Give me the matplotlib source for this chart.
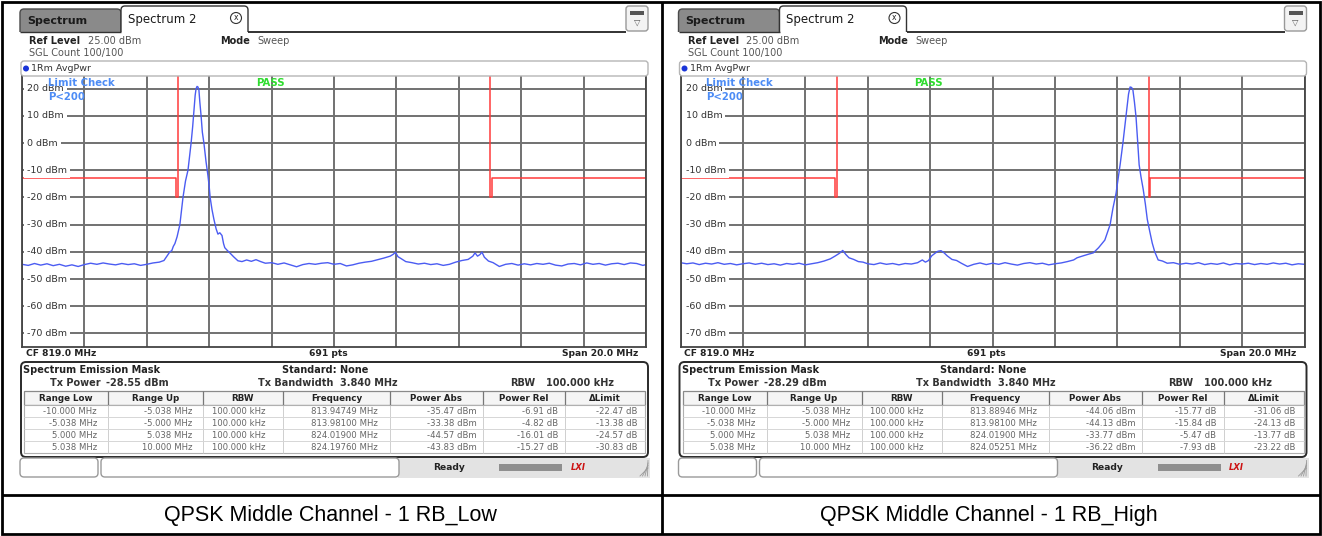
import numpy as np
import matplotlib
matplotlib.use("Agg")
import matplotlib.pyplot as plt
from matplotlib.patches import Rectangle, FancyBboxPatch, Circle

W, H = 1322, 536
plt.rcParams["font.family"] = "DejaVu Sans"

# ---- trace data (MHz, dBm) ----
freq_low = [809.0, 809.2, 809.4, 809.6, 809.8, 810.0, 810.2, 810.4, 810.6, 810.8,
            811.0, 811.2, 811.4, 811.6, 811.8, 812.0, 812.2, 812.4, 812.6, 812.8,
            813.0, 813.2, 813.4, 813.55, 813.65, 813.74, 813.8, 813.85, 813.9, 813.97,
            814.06, 814.11, 814.16, 814.24, 814.32, 814.38, 814.42, 814.47, 814.51, 814.55,
            814.58, 814.61, 814.64, 814.67, 814.7, 814.74, 814.78, 814.83, 814.9, 814.96,
            815.0, 815.03, 815.09, 815.15, 815.22, 815.28, 815.34, 815.41, 815.46, 815.5,
            815.58, 815.67, 815.78, 815.92, 816.05, 816.2, 816.35, 816.5, 816.65, 816.8,
            817.0, 817.2, 817.4, 817.6, 817.8, 818.0, 818.2, 818.4, 818.6, 818.8,
            819.0, 819.2, 819.4, 819.6, 819.8, 820.0, 820.2, 820.4, 820.6, 820.8,
            820.9, 820.97, 821.05, 821.15, 821.3, 821.5, 821.7, 821.9, 822.1, 822.3,
            822.5, 822.7, 822.9, 823.1, 823.3, 823.45, 823.52, 823.6, 823.68, 823.74,
            823.82, 823.95, 824.1, 824.3, 824.5, 824.7, 824.9, 825.1, 825.3, 825.5,
            825.7, 825.9, 826.1, 826.3, 826.5, 826.7, 826.9, 827.1, 827.3, 827.5,
            827.7, 827.9, 828.1, 828.3, 828.5, 828.7, 828.9, 829.0]
level_low = [-44.6, -45.0, -44.3, -44.9, -44.4, -45.1, -44.6, -45.3, -44.8, -45.4,
             -44.7, -44.2, -44.6, -44.1, -44.5, -44.8, -44.3, -44.7, -44.4, -45.0,
             -44.6, -44.1, -43.8, -43.2, -41.5, -40.0, -39.6, -38.0, -37.0, -34.5,
             -30.0, -25.0, -20.0, -14.0, -10.0, -4.0, 0.0, 6.0, 12.0, 17.5,
             20.0, 20.8, 20.6, 19.5, 15.0, 10.0, 4.0, 0.0, -7.0, -12.0,
             -16.0, -20.0, -24.5, -28.0, -31.5, -33.5, -33.0, -34.0, -37.0, -38.5,
             -39.5, -40.5, -41.8, -43.3, -43.6, -43.0, -43.5, -42.9, -43.6, -44.2,
             -44.0, -44.6, -44.1, -44.8, -45.5, -44.7, -44.3, -44.6, -44.2, -44.0,
             -44.6, -44.3, -45.2, -44.8, -44.2, -43.8, -43.5, -42.9, -42.3, -41.6,
             -40.9, -40.2, -41.8, -42.5, -43.6, -44.0, -44.5, -44.2, -44.7, -44.4,
             -45.0, -44.6, -43.8, -43.2, -42.8, -41.6, -40.4, -41.6, -41.0, -40.1,
             -42.0, -43.4, -44.0, -45.4, -44.6, -44.3, -44.9, -44.4, -44.8, -44.3,
             -44.6, -44.2, -44.9, -45.2, -44.5, -44.3, -44.8, -44.1, -44.6, -44.3,
             -44.9, -44.4, -44.2, -44.7, -44.1, -44.3, -45.0, -44.7]

freq_high = [809.0, 809.2, 809.4, 809.6, 809.8, 810.0, 810.2, 810.4, 810.6, 810.8,
             811.0, 811.2, 811.4, 811.6, 811.8, 812.0, 812.2, 812.4, 812.6, 812.8,
             813.0, 813.2, 813.4, 813.6, 813.8, 813.95, 814.1, 814.2, 814.3, 814.4,
             814.55, 814.7, 814.85, 815.0, 815.2, 815.4, 815.6, 815.8, 816.0, 816.2,
             816.4, 816.6, 816.75, 816.85, 816.95, 817.05, 817.15, 817.25, 817.35, 817.45,
             817.55, 817.7, 817.85, 818.0, 818.2, 818.4, 818.6, 818.8, 819.0, 819.2,
             819.4, 819.6, 819.8, 820.0, 820.2, 820.4, 820.6, 820.8, 821.0, 821.2,
             821.4, 821.6, 821.71, 821.9, 822.1, 822.23, 822.4, 822.6, 822.77, 822.86,
             822.96, 823.04, 823.09, 823.18, 823.25, 823.31, 823.36, 823.41, 823.46, 823.5,
             823.55, 823.6, 823.65, 823.7, 823.76, 823.83, 823.9, 823.96, 824.04, 824.12,
             824.2, 824.31, 824.45, 824.6, 824.8, 825.0, 825.2, 825.4, 825.6, 825.8,
             826.0, 826.2, 826.4, 826.6, 826.8, 827.0, 827.2, 827.4, 827.6, 827.8,
             828.0, 828.2, 828.4, 828.6, 828.8, 829.0]
level_high = [-44.0, -44.4, -44.1, -44.7, -44.2, -44.5, -44.0, -44.6, -44.3, -44.8,
              -44.4, -44.1, -44.6, -44.2, -44.7, -44.4, -44.9, -44.3, -44.6, -44.2,
              -44.8, -44.4, -44.0, -43.4, -42.6, -41.6, -40.5, -39.5, -41.0, -42.2,
              -42.8, -43.6, -43.8, -44.4, -44.7, -44.1, -44.6, -44.3, -44.8, -44.3,
              -44.5, -44.0, -43.0, -43.8, -43.2, -41.5, -40.6, -39.8, -39.6, -40.4,
              -41.5, -42.8, -43.2, -44.2, -45.4, -44.6, -44.1, -44.7, -44.2, -44.6,
              -44.0, -44.5, -44.9, -44.3, -44.0, -44.5, -44.2, -44.8, -44.4, -44.1,
              -43.6, -43.0, -42.2, -41.5, -40.8, -40.4, -38.5, -35.7, -30.0, -24.0,
              -18.5, -12.0, -8.0, 0.0, 7.0, 13.0, 18.0, 20.6, 20.4, 19.5,
              15.0, 9.6, 1.0, -8.0, -12.5, -17.0, -22.5, -28.0, -32.5, -36.8,
              -40.0, -43.0, -43.4, -44.2, -44.0, -44.6, -44.2, -44.5, -44.0, -44.7,
              -44.3, -44.6, -44.1, -44.8, -44.3, -44.5, -44.2, -44.7, -44.3, -44.6,
              -44.1, -44.5, -44.2, -44.8, -44.4, -44.6]

# limit line (mask) pieces
limit_lo_f = [809.0, 813.95, 813.95, 814.0, 814.0]
limit_lo_v = [-13, -13, -20, -20, 40]
limit_hi_f = [824.0, 824.0, 824.05, 824.05, 829.0]
limit_hi_v = [40, -20, -20, -13, -13]

grid_freqs = [809, 811, 813, 815, 817, 819, 821, 823, 825, 827, 829]
grid_levels = [20, 10, 0, -10, -20, -30, -40, -50, -60, -70]

# ---- table data ----
columns = ["Range Low", "Range Up", "RBW", "Frequency", "Power Abs", "Power Rel", "\u0394Limit"]
range_low = ["-10.000 MHz", "-5.038 MHz", "5.000 MHz", "5.038 MHz"]
range_up = ["-5.038 MHz", "-5.000 MHz", "5.038 MHz", "10.000 MHz"]
rbw_col = ["100.000 kHz", "100.000 kHz", "100.000 kHz", "100.000 kHz"]

tx_low = "-28.55 dBm"
freq_tab_low = ["813.94749 MHz", "813.98100 MHz", "824.01900 MHz", "824.19760 MHz"]
pabs_low = ["-35.47 dBm", "-33.38 dBm", "-44.57 dBm", "-43.83 dBm"]
prel_low = ["-6.91 dB", "-4.82 dB", "-16.01 dB", "-15.27 dB"]
dlim_low = ["-22.47 dB", "-13.38 dB", "-24.57 dB", "-30.83 dB"]

tx_high = "-28.29 dBm"
freq_tab_high = ["813.88946 MHz", "813.98100 MHz", "824.01900 MHz", "824.05251 MHz"]
pabs_high = ["-44.06 dBm", "-44.13 dBm", "-33.77 dBm", "-36.22 dBm"]
prel_high = ["-15.77 dB", "-15.84 dB", "-5.47 dB", "-7.93 dB"]
dlim_high = ["-31.06 dB", "-24.13 dB", "-13.77 dB", "-23.22 dB"]

captions = ["QPSK Middle Channel - 1 RB_Low", "QPSK Middle Channel - 1 RB_High"]

fig = plt.figure(figsize=(W / 100, H / 100), dpi=100)
top = fig.add_axes([0, 0, 1, 1], zorder=10)
top.set_xlim(0, W)
top.set_ylim(H, 0)
top.axis("off")
top.patch.set_alpha(0)


def box(x, y, w, h, fc="white", ec="#888", lw=1.0, r=0):
    if r:
        p = FancyBboxPatch((x, y), w, h, boxstyle="round,pad=0,rounding_size=%g" % r,
                           fc=fc, ec=ec, lw=lw)
    else:
        p = Rectangle((x, y), w, h, fc=fc, ec=ec, lw=lw)
    top.add_patch(p)


def txt(x, y, s, size=7, color="#222", weight="normal", ha="left", **kw):
    top.text(x, y, s, fontsize=size, color=color, fontweight=weight, ha=ha, va="center", **kw)


def hline(x0, x1, y, color="#333", lw=1.0):
    top.plot([x0, x1], [y, y], color=color, lw=lw, solid_capstyle="butt")


def vline(x, y0, y1, color="#333", lw=1.0):
    top.plot([x, x], [y0, y1], color=color, lw=lw, solid_capstyle="butt")


def panel(ox, trace_f, trace_v, tx_power, freq_tab, pabs, prel, dlim, caption):
    # tabs
    box(ox + 20, 9, 101, 28, fc="#8a8a8a", ec="#4a4a4a", r=4)
    box(ox + 121, 6, 127, 31, fc="white", ec="#333", r=4)
    box(ox + 18, 32, 634, 8, fc="white", ec="none")
    hline(ox + 20, ox + 121, 31.5, "#333")
    hline(ox + 248, ox + 626, 31.5, "#222", 1.3)
    txt(ox + 27, 20.5, "Spectrum", 8, "#1a1a1a", "bold")
    txt(ox + 128, 19, "Spectrum 2", 8.5, "#1a1a1a")
    top.add_patch(Circle((ox + 236, 18), 5.5, fill=False, ec="#333", lw=0.8))
    txt(ox + 236, 18, "x", 5.5, "#222", ha="center")
    # menu icon
    box(ox + 626, 6, 22, 25, fc="#f3f3f3", ec="#999", r=3)
    box(ox + 630, 11, 14, 4, fc="#555", ec="none")
    txt(ox + 637, 22, "\u25bd", 6, "#555", ha="center")

    # header
    txt(ox + 29, 41, "Ref Level", 7, "#222", "bold")
    txt(ox + 88, 41, "25.00 dBm", 7, "#555")
    txt(ox + 220, 41, "Mode", 7, "#222", "bold")
    txt(ox + 257, 41, "Sweep", 7, "#555")
    txt(ox + 29, 53, "SGL Count 100/100", 7, "#555")

    # trace label bar
    box(ox + 21, 61, 627, 15, fc="white", ec="#b5b5b5", r=3)
    top.add_patch(Circle((ox + 26, 68.5), 3, fc="#1a35d8", ec="none"))
    txt(ox + 31, 68.5, "1Rm AvgPwr", 6.8, "#333")

    # spectrum diagram
    ax = fig.add_axes([(ox + 22) / W, 1 - 347 / H, 624 / W, 272 / H], zorder=2)
    ax.set_xlim(809, 829)
    ax.set_ylim(-75, 25)
    ax.set_xticks(grid_freqs)
    ax.set_yticks(grid_levels)
    ax.tick_params(length=0, labelbottom=False, labelleft=False)
    ax.grid(True, color="#717171", lw=1.4)
    ax.set_axisbelow(True)
    for s in ax.spines.values():
        s.set_color("#444")
        s.set_linewidth(1.3)
    ax.plot(limit_lo_f, limit_lo_v, color="#ff3b3b", lw=1.1)
    ax.plot(limit_hi_f, limit_hi_v, color="#ff3b3b", lw=1.1)
    ax.plot(trace_f, trace_v, color="#4b5cf2", lw=1.0)
    for lv in grid_levels:
        ax.text(5 / 624, lv, "%d dBm" % lv, transform=ax.get_yaxis_transform(),
                fontsize=6.8, color="#333", va="center", ha="left",
                bbox=dict(fc="white", ec="none", pad=2.4))

    txt(ox + 48, 83, "Limit Check", 7.3, "#4d8cf5", "bold")
    txt(ox + 48, 97.5, "P<200", 7.3, "#4d8cf5", "bold")
    txt(ox + 270, 83, "PASS", 7.3, "#2fdc2f", "bold", ha="center")

    # footer of diagram
    txt(ox + 26, 353.5, "CF 819.0 MHz", 6.6, "#222", "bold")
    txt(ox + 328, 353.5, "691 pts", 6.6, "#222", "bold", ha="center")
    txt(ox + 638, 353.5, "Span 20.0 MHz", 6.6, "#222", "bold", ha="right")

    # SEM result box
    box(ox + 21, 362, 627, 95, fc="white", ec="#2a2a2a", lw=1.4, r=5)
    txt(ox + 23, 370, "Spectrum Emission Mask", 7, "#222", "bold")
    txt(ox + 282, 370, "Standard: None", 7, "#222", "bold")
    txt(ox + 50, 382.5, "Tx Power", 7, "#333", "bold")
    txt(ox + 106, 382.5, tx_power, 7, "#333", "bold")
    txt(ox + 258, 382.5, "Tx Bandwidth", 7, "#333", "bold")
    txt(ox + 340, 382.5, "3.840 MHz", 7, "#333", "bold")
    txt(ox + 510, 382.5, "RBW", 7, "#333", "bold")
    txt(ox + 546, 382.5, "100.000 kHz", 7, "#333", "bold")

    seps = [24, 108, 203, 283, 390, 483, 565, 645]
    rights = [97, 192, 265, 378, 477, 558, 637]
    box(ox + 24, 391, 621, 14, fc="#f5f5f5", ec="#8a8a8a", lw=0.9)
    box(ox + 24, 405, 621, 48, fc="white", ec="#b0b0b0", lw=0.8)
    for k in range(1, 7):
        vline(ox + seps[k], 391, 405, "#777", 0.9)
        vline(ox + seps[k], 405, 453, "#cfcfcf", 0.7)
    for i in range(1, 4):
        hline(ox + 24, ox + 645, 405 + 12 * i, "#d6d6d6", 0.7)
    for k, name in enumerate(columns):
        txt(ox + (seps[k] + seps[k + 1]) / 2, 398.5, name, 6.3, "#222", "bold", ha="center")
    table_cols = [range_low, range_up, rbw_col, freq_tab, pabs, prel, dlim]
    for k, col in enumerate(table_cols):
        for i, val in enumerate(col):
            txt(ox + rights[k], 411.5 + 12 * i, val, 6.1, "#666", ha="right")

    # status bar
    box(ox + 398, 458, 252, 20, fc="#e3e3e3", ec="none")
    box(ox + 20, 458, 78, 19, fc="white", ec="#9a9a9a", r=4)
    box(ox + 101, 458, 298, 19, fc="white", ec="#9a9a9a", r=4)
    txt(ox + 449, 467, "Ready", 6.6, "#222", "bold", ha="center")
    box(ox + 499, 463.5, 63, 7, fc="#8f8f8f", ec="none")
    txt(ox + 578, 467, "LXI", 6, "#cc1111", "bold", ha="center", style="italic")
    for d in range(4):
        top.plot([ox + 640 + 2.5 * d, ox + 648], [476, 468 - 2.5 * d], color="#999", lw=0.6)

    # caption
    top.text(ox + 330, 516, caption, fontsize=15.5, family="Liberation Sans",
             ha="center", va="center", color="black")


panel(0, freq_low, level_low, tx_low, freq_tab_low, pabs_low, prel_low, dlim_low, captions[0])
panel(658.5, freq_high, level_high, tx_high, freq_tab_high, pabs_high, prel_high, dlim_high, captions[1])

# outer frame and dividers
top.add_patch(Rectangle((2, 2), W - 4, H - 4, fill=False, ec="black", lw=2))
vline(661.5, 2, H - 2, "black", 2)
hline(2, W - 2, 495, "black", 2)

fig.savefig("out.png", dpi=100, facecolor="white")
